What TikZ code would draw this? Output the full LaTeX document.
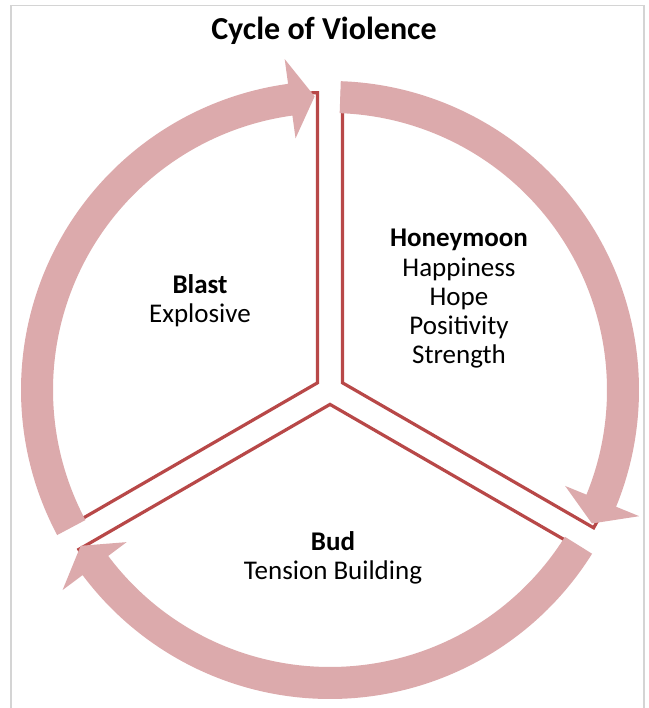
\documentclass[tikz,border=0pt]{standalone}
\usepackage{fontspec}
\setmainfont{Carlito}
\usetikzlibrary{calc}
\definecolor{bandpink}{RGB}{220,170,172}
\definecolor{edgered}{RGB}{184,72,72}
\definecolor{framegray}{RGB}{212,212,212}
\tikzstyle{band} = [fill=bandpink, draw=none]
\tikzstyle{wedge} = [fill=white, draw=edgered, line width=3.2pt, line join=miter]
\tikzstyle{phase} = [align=center, font=\fontsize{27}{29.3}\selectfont, inner sep=0pt]

\begin{document}
\begin{tikzpicture}[x=1pt,y=1pt]
    \useasboundingbox (0,0) rectangle (648,708);
    \draw[framegray, line width=1.5pt] (11,0) -- (11,702.5) -- (644,702.5) -- (644,0);
    \coordinate (center) at (330,318);
    \node (title) [anchor=base, inner sep=0pt, font=\fontsize{32}{36}\selectfont\bfseries] at (324,668) {Cycle of Violence};
    \begin{scope}[shift={(center)}]
        % three wedges, pushed out from the middle
        \foreach \a in {30,270,150} {
            \draw[wedge] (\a:14.4) -- ++(\a+60:290) arc[start angle=\a+60, end angle=\a-60, radius=290] -- cycle;
        }
        % arrows on top, clockwise
        \foreach \t/\p in {208/93, 88/-27, -32/-148} {
            \pgfmathsetmacro\h{\p+4.8}
            \fill[band] (\t:309) arc[start angle=\t, end angle=\h, radius=309] -- (\h:334) -- (\p:294)
                        -- (\h:254) -- (\h:277) arc[start angle=\h, end angle=\t, radius=277] -- cycle;
        }
    \end{scope}
    % base anchor sits on the last line
    \node (honeymoon) [phase, anchor=base] at (459,344) {\textbf{Honeymoon}\\Happiness\\Hope\\Positivity\\Strength};
    \node (blast) [phase, anchor=base] at (200,385) {\textbf{Blast}\\Explosive};
    \node (bud) [phase, anchor=base] at (333,128) {\textbf{Bud}\\Tension Building};
\end{tikzpicture}
\end{document}
